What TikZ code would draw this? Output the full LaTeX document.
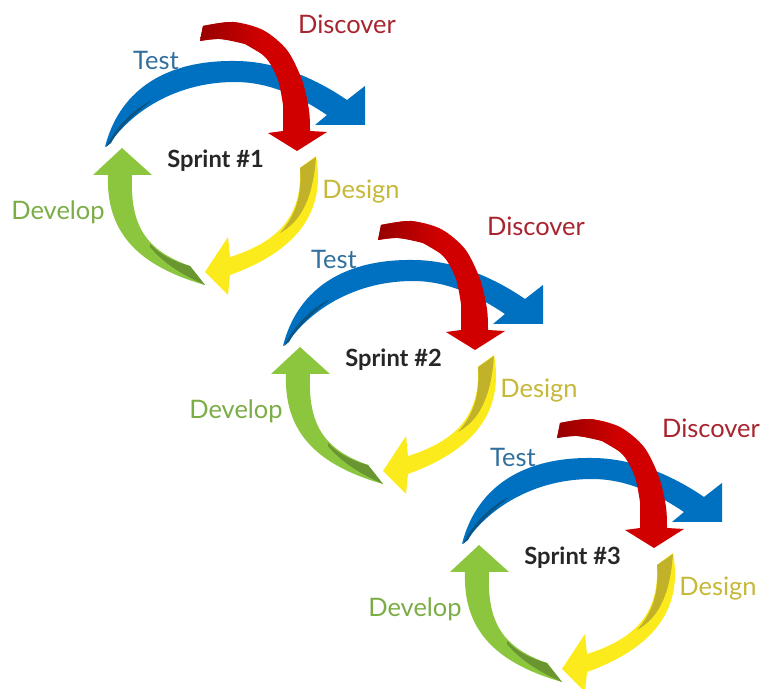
\documentclass[tikz,border=0pt]{standalone}
\usepackage{fontspec}
\setmainfont{Lato}
\definecolor{testblue}{HTML}{0070C0}
\definecolor{testdark}{HTML}{0B5584}
\definecolor{testtext}{HTML}{31709E}
\definecolor{discred}{HTML}{D10000}
\definecolor{discdark}{HTML}{960000}
\definecolor{disctext}{HTML}{A8242E}
\definecolor{desyellow}{HTML}{FCEB1C}
\definecolor{desdark}{HTML}{C2B22A}
\definecolor{destext}{HTML}{C6B838}
\definecolor{devgreen}{HTML}{8CC63F}
\definecolor{devdark}{HTML}{6A9632}
\definecolor{devtext}{HTML}{7BAD46}
\tikzset{
  phase/.style={font=\fontsize{14.5}{17}\selectfont},
  sprint/.style={font=\bfseries\fontsize{13.5}{16}\selectfont, text=black!85, anchor=west, inner sep=0pt},
}
\begin{document}
\begin{tikzpicture}[x=0.02cm, y=-0.02cm]
  \useasboundingbox (0,0) rectangle (762,689);
  \foreach \dx/\dy/\n/\ux/\uy in {0/0/1/347/24, 178/199/2/358/27, 357/397/3/354/31}{
  \begin{scope}[shift={(\dx,\dy)}]
    % test
    \fill[testblue] (105,147) .. controls (118,95) and (160,60) .. (235,61) .. controls (275,61) and (315,78) .. (347,100)
      -- (365,86) -- (365,125) -- (315,125) -- (327,115)
      .. controls (300,97) and (270,82) .. (235,82) .. controls (180,82) and (135,108) .. (110,143) -- cycle;
    \fill[testdark] (106,147) .. controls (116,127) and (132,110) .. (152,100)
      .. controls (138,112) and (120,126) .. (111,143) -- cycle;
    % discover
    \fill[discred] plot[smooth] coordinates {(203,26) (233,22) (263,30) (287,50) (302,80) (309,110) (310,131)}
      -- (327,132) -- (297,151) -- (268,133) -- (283,131)
      -- plot[smooth] coordinates {(283,105) (278,80) (266,58) (245,44) (220,39) (200,41)} -- cycle;
    \shade[left color=discdark, right color=discred] plot[smooth] coordinates {(203,26) (233,22) (262,30)}
      -- (262,54) -- plot[smooth] coordinates {(245,44) (220,39) (200,41)} -- cycle;
    % design
    \fill[desyellow] (316,156) .. controls (325,205) and (305,248) .. (230,275)
      -- (228,295) -- (205,272) -- (228,237) -- (230,257)
      .. controls (285,240) and (302,210) .. (300,168) -- cycle;
    \fill[desdark] (316,157) .. controls (313,200) and (300,222) .. (280,233)
      .. controls (296,215) and (302,195) .. (300,168) -- cycle;
    % develop
    \fill[devgreen] (122,148) -- (152,175) -- (132,175)
      .. controls (130,225) and (145,250) .. (190,266) -- (205,285)
      .. controls (135,265) and (106,230) .. (108,175) -- (93,175) -- cycle;
    \fill[devdark] (150,244) .. controls (160,255) and (175,262) .. (190,266) -- (205,285)
      .. controls (185,276) and (165,265) .. (150,247) -- cycle;
    % labels
    \node[phase, text=testtext] (test\n) at (156,60) {Test};
    \node[phase, text=disctext] (discover\n) at (\ux,\uy) {Discover};
    \node[phase, text=destext] (design\n) at (361,192) {Design};
    \node[phase, text=devtext] (develop\n) at (58,212) {Develop};
    \node[sprint] (sprint\n) at (167,161) {Sprint \#\n};
  \end{scope}}
\end{tikzpicture}
\end{document}
